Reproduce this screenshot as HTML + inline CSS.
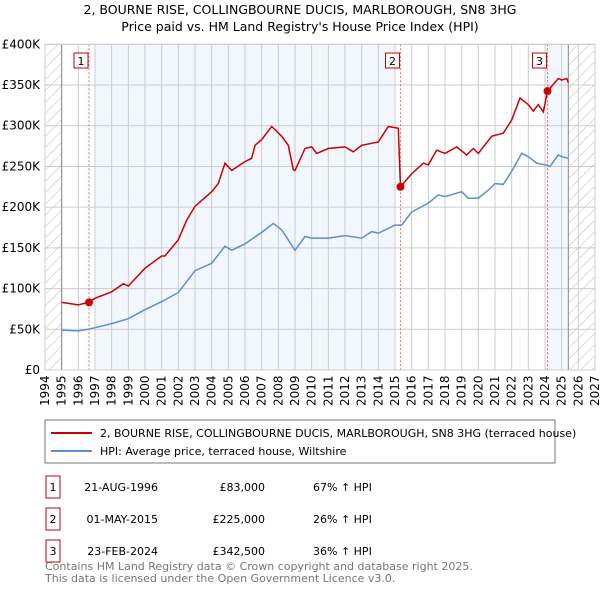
<!DOCTYPE html>
<html><head><meta charset="utf-8"><style>
body{margin:0;background:#fff;font-family:"DejaVu Sans","Liberation Sans",sans-serif;}
svg text{font-family:"DejaVu Sans","Liberation Sans",sans-serif;}
</style></head><body>
<svg id="c" width="600" height="590" viewBox="0 0 600 590" xmlns="http://www.w3.org/2000/svg">
<defs><pattern id="h" width="8" height="8" patternUnits="userSpaceOnUse" patternTransform="rotate(45)"><line x1="0" y1="0" x2="0" y2="8" stroke="#bbb" stroke-width="1"/></pattern></defs>
<text x="300" y="14" text-anchor="middle" font-size="12.5">2, BOURNE RISE, COLLINGBOURNE DUCIS, MARLBOROUGH, SN8 3HG</text>
<text x="300" y="31" text-anchor="middle" font-size="12.5">Price paid vs. HM Land Registry's House Price Index (HPI)</text>
<g id="plot"></g>
<rect x="45" y="420" width="510" height="43" fill="#fff" stroke="#777"/>
<line x1="51" y1="433" x2="92" y2="433" stroke="#cc0000" stroke-width="2"/>
<text x="100" y="437" font-size="11">2, BOURNE RISE, COLLINGBOURNE DUCIS, MARLBOROUGH, SN8 3HG (terraced house)</text>
<line x1="51" y1="451" x2="92" y2="451" stroke="#5b8fd4" stroke-width="2"/>
<text x="100" y="455" font-size="11">HPI: Average price, terraced house, Wiltshire</text>
<g id="tbl" font-size="11"></g>
<text x="45" y="570" font-size="11" fill="#777">Contains HM Land Registry data © Crown copyright and database right 2025.</text>
<text x="45" y="582" font-size="11" fill="#777">This data is licensed under the Open Government Licence v3.0.</text>
</svg>
<script>
const yTicks=[0,50,100,150,200,250,300,350,400];
const yTickLabels=["£0","£50K","£100K","£150K","£200K","£250K","£300K","£350K","£400K"];
const xYears=[1994,1995,1996,1997,1998,1999,2000,2001,2002,2003,2004,2005,2006,2007,2008,2009,2010,2011,2012,2013,2014,2015,2016,2017,2018,2019,2020,2021,2022,2023,2024,2025,2026,2027];
const hpiT=[1995,1996,1996.6,1997,1998,1999,2000,2001,2002,2003,2004,2004.8,2005.2,2006,2007,2007.7,2008.2,2009,2009.6,2010,2011,2012,2013,2013.6,2014,2015,2015.4,2016,2017,2017.6,2018,2019,2019.4,2020,2020.6,2021,2021.5,2022,2022.6,2023,2023.5,2024,2024.3,2024.8,2025,2025.4];
const hpiV=[49,48,50,52,57,63,74,84,95,122,131,152,147,155,169,180,172,147,164,162,162,165,162,170,168,178,178,194,205,215,213,219,211,211,221,229,228,244,266,262,254,252,250,264,262,260];
const propT=[1995,1996,1996.6,1997,1998,1998.7,1999,2000,2001,2001.2,2002,2002.5,2003,2004,2004.4,2004.8,2005.2,2006,2006.4,2006.6,2007,2007.6,2008.2,2008.6,2008.9,2009,2009.6,2010,2010.3,2011,2012,2012.5,2013,2014,2014.6,2015.2,2015.33,2016,2016.7,2017,2017.5,2018,2018.7,2019.3,2019.7,2020,2020.8,2021.5,2022,2022.5,2023,2023.3,2023.6,2023.9,2024.15,2024.8,2025,2025.3,2025.4];
const propV=[83,80,83,88,96,106,103,125,140,140,160,184,201,219,229,254,245,256,260,276,283,299,287,276,246,245,272,274,266,272,274,268,276,280,299,297,225,241,254,252,270,266,274,264,272,266,287,291,307,334,326,318,326,317,342.5,358,356,358,353];
const saleT=[1996.64,2015.33,2024.15];
const saleV=[83,225,342.5];
const saleLabels=["1","2","3"];
const saleDates=["21-AUG-1996","01-MAY-2015","23-FEB-2024"];
const salePrices=["£83,000","£225,000","£342,500"];
const saleHpi=["67% ↑ HPI","26% ↑ HPI","36% ↑ HPI"];

const NS="http://www.w3.org/2000/svg";
const X=t=>45+(t-1994)*550/33;
const Y=v=>370-v*325.7/400;
function mk(p,tag,a){const e=document.createElementNS(NS,tag);for(const k in a)e.setAttribute(k,a[k]);p.appendChild(e);return e;}
const g=document.getElementById('plot');
let e;
e=mk(g,'rect',{x:X(1994),y:Y(400),width:X(1995)-X(1994),height:Y(0)-Y(400),fill:'url(#h)'});


e=mk(g,'rect',{x:X(2025.4),y:Y(400),width:X(2027)-X(2025.4),height:Y(0)-Y(400),fill:'url(#h)'});


e=mk(g,'rect',{x:X(1997),y:Y(400),width:X(2015)-X(1997),height:Y(0)-Y(400),fill:'#f2f6fd'});


e=mk(g,'rect',{x:X(2024),y:Y(400),width:X(2025.4)-X(2024),height:Y(0)-Y(400),fill:'#f2f6fd'});


xYears.forEach((yr,i)=>{
  e=mk(g,'line',{x1:X(yr),x2:X(yr),y1:Y(400),y2:Y(0),stroke:'#cccccc'});
  
  
  const tx=X(yr)+4,ty=406;
  e=mk(g,'text',{x:tx,y:ty,transform:`rotate(-90 ${tx} ${ty})`,'font-size':'12'});
  e.textContent=yr;
  
  
});
yTicks.forEach((v,i)=>{
  e=mk(g,'line',{x1:X(1994),x2:X(2027),y1:Y(v),y2:Y(v),stroke:'#cccccc'});
  
  
  e=mk(g,'text',{x:40,y:Y(v)+4,'text-anchor':'end','font-size':'12'});
  e.textContent=yTickLabels[i];
  
  
});
[1995,2025.4].forEach(t=>{e=mk(g,'line',{x1:X(t),x2:X(t),y1:Y(400),y2:Y(0),stroke:'#888'});

});
saleT.forEach((t,i)=>{
  e=mk(g,'line',{x1:X(t),x2:X(t),y1:Y(400),y2:Y(0),stroke:'#ff6666','stroke-dasharray':'2,2'});
  
  
});
const path=(T,V)=>T.map((t,i)=>(i?'L':'M')+X(t).toFixed(1)+','+Y(V[i]).toFixed(1)).join('');
e=mk(g,'path',{d:path(hpiT,hpiV),fill:'none',stroke:'#5b8fd4','stroke-width':1.5});


e=mk(g,'path',{d:path(propT,propV),fill:'none',stroke:'#cc0000','stroke-width':1.5});


saleT.forEach((t,i)=>{
  e=mk(g,'circle',{cx:X(t),cy:Y(saleV[i]),r:4,fill:'#cc0000'});
  
  
  e=mk(g,'rect',{x:X(t)-15,y:53,width:14,height:15,fill:'#fff',stroke:'#cc0000'});
  
  
  e=mk(g,'text',{x:X(t)-8,y:65,'text-anchor':'middle','font-size':'11'});
  e.textContent=saleLabels[i];
  
  
});
e=mk(g,'rect',{x:X(1994),y:Y(400),width:X(2027)-X(1994),height:Y(0)-Y(400),fill:'none',stroke:'#cccccc'});


const tb=document.getElementById('tbl');
saleLabels.forEach((l,i)=>{
  const cy=487+i*32;
  e=mk(tb,'rect',{x:46,y:cy-11,width:14,height:22,fill:'#fff',stroke:'#cc0000'});
  
  
  e=mk(tb,'text',{x:53,y:cy+4,'text-anchor':'middle'});e.textContent=l;
  
  
  e=mk(tb,'text',{x:158,y:cy+4,'text-anchor':'end'});e.textContent=saleDates[i];
  
  
  e=mk(tb,'text',{x:265,y:cy+4,'text-anchor':'end'});e.textContent=salePrices[i];
  
  
  e=mk(tb,'text',{x:313,y:cy+4});e.textContent=saleHpi[i];
  
  
});
</script>
</body></html>
